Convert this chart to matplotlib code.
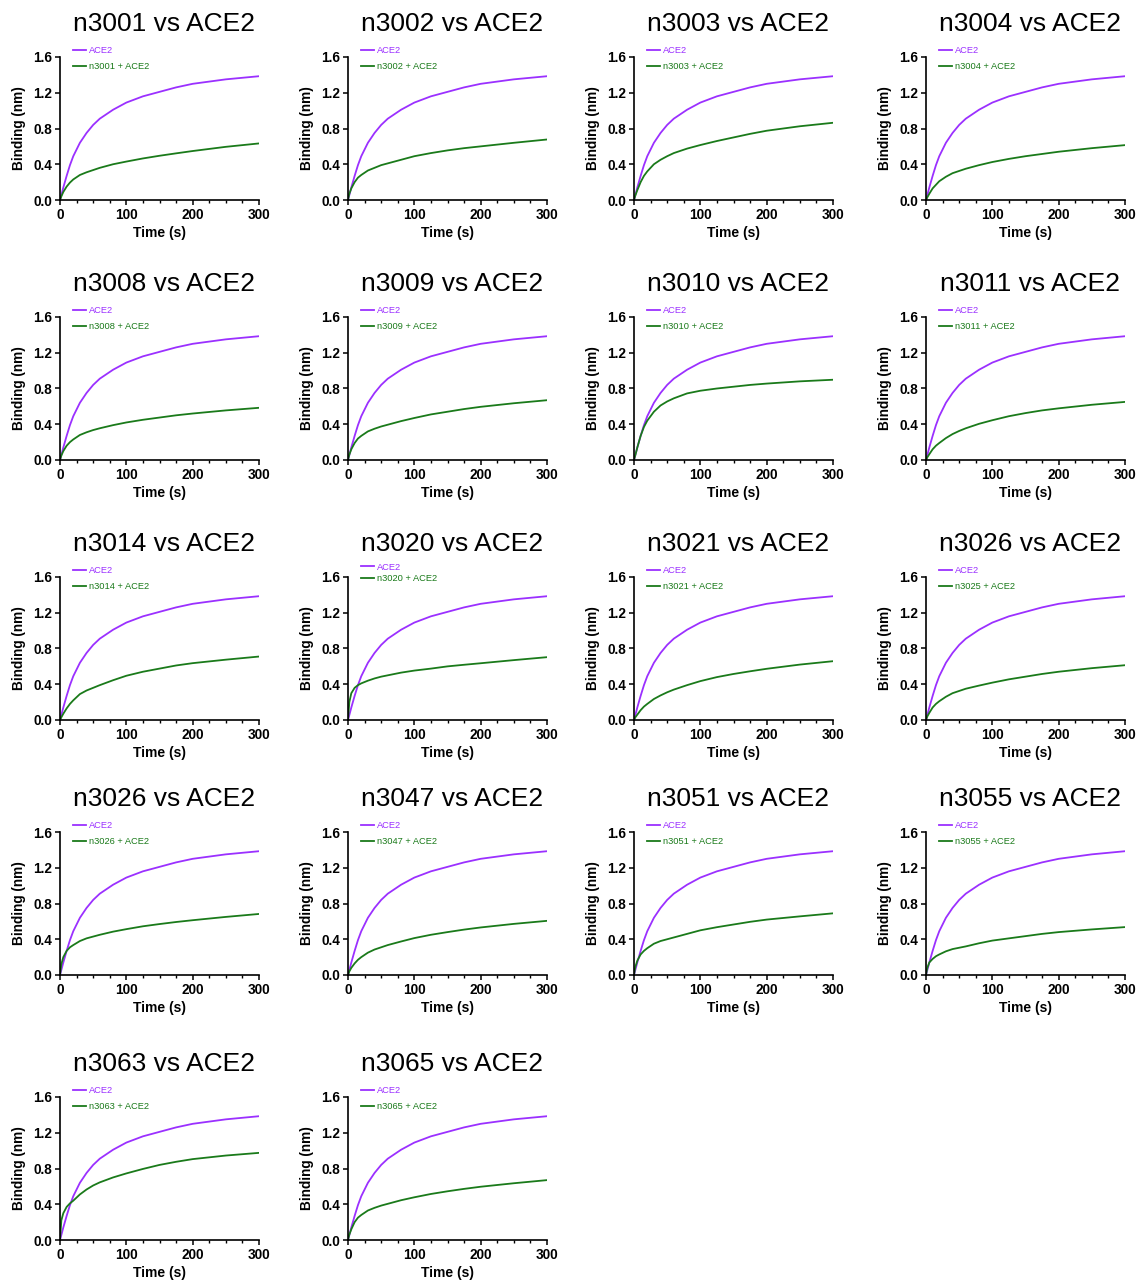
import matplotlib
matplotlib.use('Agg')
import matplotlib.pyplot as plt
from matplotlib.ticker import MultipleLocator, FormatStrFormatter

plt.rcParams['font.family'] = ['Liberation Sans', 'DejaVu Sans']

# ---------------- data ----------------
time_s = [0, 2, 5, 10, 15, 20, 30, 40, 50, 60, 80, 100, 125, 150, 175, 200, 250, 300]

ace2 = [0, 0.055, 0.14, 0.27, 0.39, 0.49, 0.64, 0.75, 0.84, 0.91, 1.01, 1.09, 1.16, 1.21, 1.26, 1.30, 1.35, 1.385]

titles = ["n3001", "n3002", "n3003", "n3004",
          "n3008", "n3009", "n3010", "n3011",
          "n3014", "n3020", "n3021", "n3026",
          "n3026", "n3047", "n3051", "n3055",
          "n3063", "n3065"]

legend_names = ["n3001", "n3002", "n3003", "n3004",
                "n3008", "n3009", "n3010", "n3011",
                "n3014", "n3020", "n3021", "n3025",
                "n3026", "n3047", "n3051", "n3055",
                "n3063", "n3065"]

n3001 = [0, 0.04, 0.09, 0.15, 0.195, 0.23, 0.28, 0.31, 0.335, 0.36, 0.40, 0.43, 0.465, 0.495, 0.522, 0.548, 0.595, 0.633]
n3002 = [0, 0.07, 0.13, 0.20, 0.25, 0.28, 0.33, 0.36, 0.39, 0.41, 0.45, 0.49, 0.525, 0.555, 0.58, 0.60, 0.64, 0.677]
n3003 = [0, 0.05, 0.11, 0.20, 0.27, 0.32, 0.40, 0.45, 0.49, 0.525, 0.575, 0.615, 0.66, 0.70, 0.74, 0.775, 0.825, 0.864]
n3004 = [0, 0.03, 0.07, 0.13, 0.17, 0.21, 0.26, 0.30, 0.325, 0.35, 0.39, 0.425, 0.46, 0.49, 0.515, 0.54, 0.58, 0.614]
n3008 = [0, 0.05, 0.10, 0.16, 0.20, 0.23, 0.28, 0.31, 0.335, 0.355, 0.39, 0.42, 0.45, 0.475, 0.50, 0.52, 0.555, 0.584]
n3009 = [0, 0.06, 0.12, 0.19, 0.24, 0.27, 0.32, 0.35, 0.375, 0.395, 0.435, 0.47, 0.51, 0.54, 0.57, 0.595, 0.635, 0.669]
n3010 = [0, 0.055, 0.14, 0.27, 0.37, 0.44, 0.54, 0.61, 0.655, 0.69, 0.745, 0.775, 0.80, 0.82, 0.84, 0.855, 0.88, 0.898]
n3011 = [0, 0.03, 0.065, 0.12, 0.16, 0.19, 0.245, 0.29, 0.325, 0.355, 0.405, 0.445, 0.49, 0.525, 0.555, 0.578, 0.618, 0.65]
n3014 = [0, 0.03, 0.07, 0.13, 0.18, 0.22, 0.29, 0.33, 0.36, 0.39, 0.445, 0.495, 0.54, 0.575, 0.61, 0.636, 0.675, 0.71]
n3020 = [0, 0.20, 0.30, 0.36, 0.39, 0.41, 0.44, 0.465, 0.485, 0.50, 0.53, 0.553, 0.575, 0.60, 0.618, 0.635, 0.67, 0.703]
n3021 = [0, 0.03, 0.06, 0.11, 0.15, 0.18, 0.235, 0.275, 0.31, 0.34, 0.39, 0.435, 0.48, 0.515, 0.545, 0.573, 0.62, 0.658]
n3025 = [0, 0.04, 0.08, 0.14, 0.18, 0.21, 0.26, 0.30, 0.325, 0.35, 0.385, 0.418, 0.455, 0.485, 0.515, 0.54, 0.58, 0.613]
n3026 = [0, 0.12, 0.20, 0.27, 0.31, 0.335, 0.38, 0.41, 0.43, 0.45, 0.485, 0.513, 0.545, 0.57, 0.593, 0.613, 0.65, 0.683]
n3047 = [0, 0.04, 0.08, 0.13, 0.17, 0.20, 0.25, 0.285, 0.31, 0.335, 0.375, 0.413, 0.45, 0.48, 0.508, 0.532, 0.572, 0.606]
n3051 = [0, 0.09, 0.16, 0.23, 0.27, 0.30, 0.35, 0.38, 0.40, 0.42, 0.46, 0.50, 0.535, 0.565, 0.595, 0.62, 0.656, 0.69]
n3055 = [0, 0.08, 0.14, 0.18, 0.21, 0.23, 0.265, 0.29, 0.305, 0.32, 0.355, 0.385, 0.41, 0.435, 0.46, 0.48, 0.51, 0.536]
n3063 = [0, 0.22, 0.30, 0.37, 0.41, 0.44, 0.51, 0.565, 0.61, 0.645, 0.70, 0.745, 0.795, 0.84, 0.875, 0.905, 0.945, 0.975]
n3065 = [0, 0.06, 0.12, 0.20, 0.25, 0.28, 0.33, 0.36, 0.385, 0.405, 0.445, 0.478, 0.515, 0.545, 0.572, 0.596, 0.635, 0.67]

green_series = [n3001, n3002, n3003, n3004, n3008, n3009, n3010, n3011,
                n3014, n3020, n3021, n3025, n3026, n3047, n3051, n3055,
                n3063, n3065]

x_ticks = [0, 100, 200, 300]
y_ticks = [0.0, 0.4, 0.8, 1.2, 1.6]

# ---------------- style / layout ----------------
PURPLE = '#9B30FF'
GREEN = '#1A7A1A'
W, H = 1143, 1284
col_left = [60, 348, 634, 926]
row_top = [57, 317, 577, 832, 1097]
aw, ah = 199, 143

fig = plt.figure(figsize=(W / 100, H / 100), dpi=100)

for i, (title, lname, g) in enumerate(zip(titles, legend_names, green_series)):
    r, c = divmod(i, 4)
    ax = fig.add_axes([col_left[c] / W, 1 - (row_top[r] + ah) / H, aw / W, ah / H])
    ax.plot(time_s, ace2, color=PURPLE, lw=1.3, label='ACE2', solid_joinstyle='round')
    ax.plot(time_s, g, color=GREEN, lw=1.3, label=f'{lname} + ACE2', solid_joinstyle='round')
    ax.set_xlim(0, 300)
    ax.set_ylim(0, 1.6)
    ax.set_xticks(x_ticks)
    ax.set_yticks(y_ticks)
    ax.xaxis.set_minor_locator(MultipleLocator(25))
    ax.yaxis.set_major_formatter(FormatStrFormatter('%.1f'))
    for s in ['top', 'right']:
        ax.spines[s].set_visible(False)
    for s in ['left', 'bottom']:
        ax.spines[s].set_linewidth(1.2)
    ax.tick_params(which='major', length=3.5, width=1.1, labelsize=9.8, pad=2)
    ax.tick_params(which='minor', length=2.2, width=1.0)
    for lab in ax.get_xticklabels() + ax.get_yticklabels():
        lab.set_fontweight('bold')
    ax.set_xlabel('Time (s)', fontsize=10, fontweight='bold')
    ax.set_ylabel('Binding (nm)', fontsize=9.8, fontweight='bold')
    ax.xaxis.set_label_coords(0.5, -0.18)
    ax.yaxis.set_label_coords(-0.17, 0.5)
    ax.set_title(f'{title} vs ACE2', fontsize=19, pad=19, x=0.525)

    if lname == 'n3020':
        anchor_y, spacing = 1.10, 0.3
    else:
        anchor_y, spacing = 1.075, 0.72
    ax.legend(loc='upper left', bbox_to_anchor=(0.066, anchor_y), frameon=False,
              fontsize=6.7, handlelength=1.35, handletextpad=0.4,
              labelspacing=spacing, borderpad=0, borderaxespad=0,
              labelcolor='linecolor')

fig.savefig('out.png', dpi=100)
